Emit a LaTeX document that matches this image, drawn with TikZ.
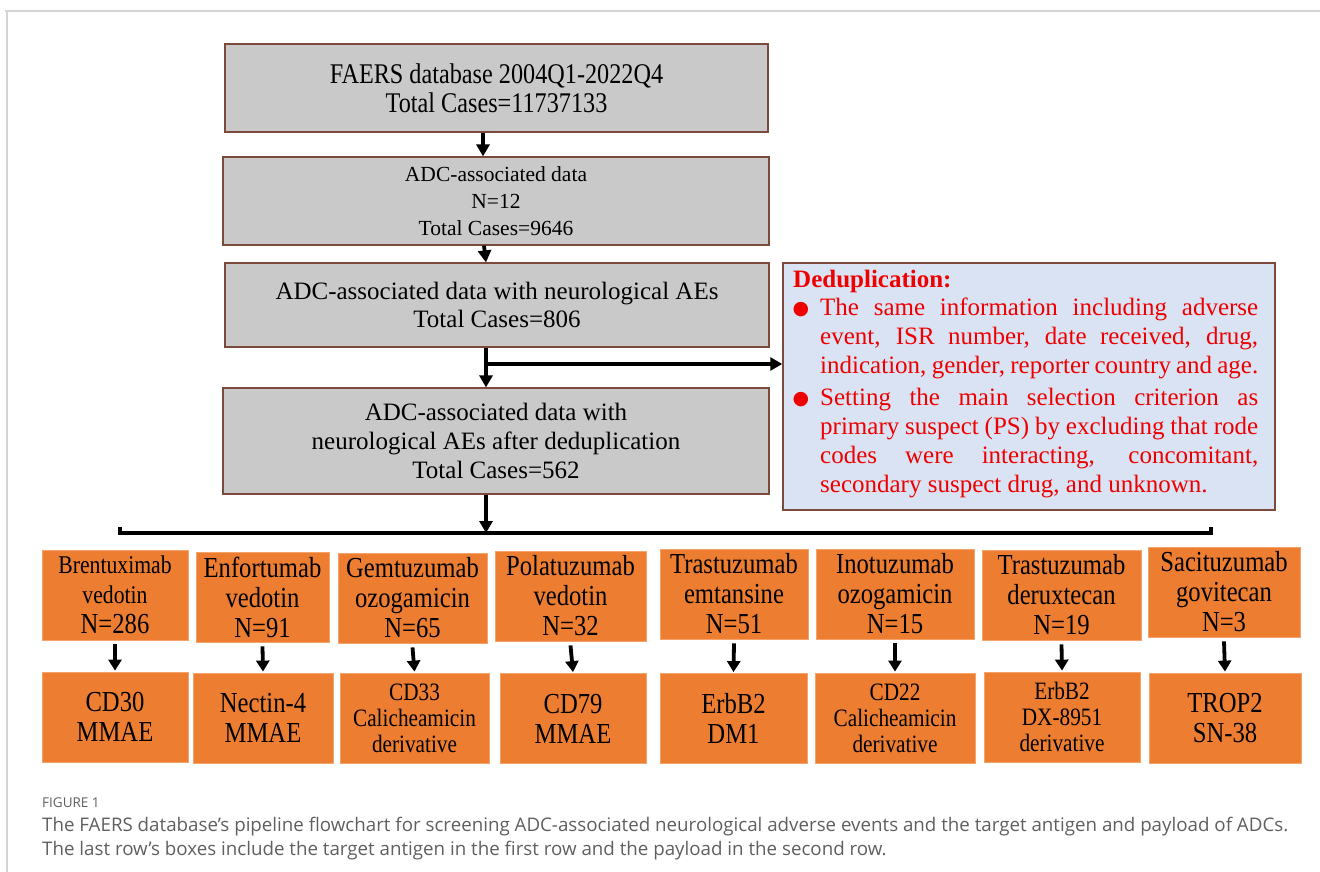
\documentclass[tikz,border=0pt]{standalone}
\usepackage{fontspec}
\setmainfont{Liberation Serif}
\newfontfamily\cserif[FakeStretch=0.85]{Liberation Serif}
\newfontfamily\capsans{Open Sans}
\newfontfamily\symfont{DejaVu Sans}
\usetikzlibrary{arrows.meta}
\definecolor{boxgray}{HTML}{C9C9C9}
\definecolor{brownline}{HTML}{7B4A3A}
\definecolor{orangefill}{HTML}{ED7D31}
\definecolor{orangeline}{HTML}{F4A46A}
\definecolor{dedupfill}{HTML}{DAE3F3}
\definecolor{dedupred}{HTML}{EE0000}
\definecolor{framegray}{HTML}{D4D4D4}
\definecolor{capgray}{HTML}{5F5F5F}
\newcommand{\fs}[2]{\fontsize{#1}{#2}\selectfont}
\newcommand{\jl}[1]{\makebox[438pt][s]{#1}}
\newcommand{\bul}{\llap{\symfont\fs{19}{29}\raisebox{1pt}{●}\hspace{11pt}}}
\newcommand{\capone}{The FAERS database’s pipeline flowchart for screening ADC-associated neurological adverse events and the target antigen and payload of ADCs.}
\newlength{\capw}
\begin{document}
\settowidth{\capw}{\capsans\fs{10}{12}\capone}
\pgfmathsetmacro{\capsize}{10*1246/\capw}
\begin{tikzpicture}[x=1pt,y=-1pt,
  graybox/.style={draw=brownline,line width=1.2pt,fill=boxgray,inner sep=0pt,align=center},
  obox/.style={draw=orangeline,line width=0.8pt,fill=orangefill,inner sep=0pt,align=center,minimum height=90pt},
  big/.style={font={\cserif\fs{29}{30}}},
  small/.style={font={\cserif\fs{25}{26}}},
  arr/.style={line width=3.8pt,-{Triangle[width=13pt,length=12pt]}},
  smallarr/.style={line width=3.8pt,-{Triangle[width=13pt,length=11pt]}},
  bracket/.style={line width=3.6pt},
  captext/.style={anchor=base west,inner sep=0pt,text=capgray}
]
\useasboundingbox (0,0) rectangle (1320,872);
% frame
\draw[framegray,line width=2pt] (5,11) -- (1320,11);
\draw[framegray,line width=2pt] (7,11) -- (7,872);

% main boxes
\node[graybox,minimum width=543pt,minimum height=88pt,font={\cserif\fs{28.5}{29}}] (b1) at (496.5,88)
  {FAERS database 2004Q1-2022Q4\\Total Cases=11737133};
\node[graybox,minimum width=546pt,minimum height=88pt,font=\fs{21.5}{27}] (b2) at (496,201)
  {ADC-associated data\\N=12\\Total Cases=9646};
\node[graybox,minimum width=544pt,minimum height=84pt,font=\fs{25}{28}] (b3) at (497,305)
  {ADC-associated data with neurological AEs\\Total Cases=806};
\node[graybox,minimum width=546pt,minimum height=106pt,font=\fs{25}{29}] (b4) at (496,441)
  {ADC-associated data with\\neurological AEs after deduplication\\Total Cases=562};

% dedup box
\node[draw=brownline,line width=1.5pt,fill=dedupfill,minimum width=492pt,minimum height=247pt,inner sep=0pt] (dd) at (1029,386.5) {};
\node[anchor=north west,inner sep=0pt,align=left,text=dedupred,font=\fs{25}{29}] (ddt) at (793,270)
  {\textbf{Deduplication:}\\[-1pt]
   \hspace{27pt}\bul\jl{The same information including adverse}\\
   \hspace{27pt}\jl{event, ISR number, date received, drug,}\\
   \hspace{27pt}\jl{indication, gender, reporter country and age.}\\[3pt]
   \hspace{27pt}\bul\jl{Setting the main selection criterion as}\\
   \hspace{27pt}\jl{primary suspect (PS) by excluding that rode}\\
   \hspace{27pt}\jl{codes were interacting, concomitant,}\\
   \hspace{27pt}secondary suspect drug, and unknown.};

% arrows of main column
\draw[arr] ([xshift=-13.5pt]b1.south) -- ([xshift=-13pt]b2.north);
\draw[arr] ([xshift=-12pt]b2.south) -- ([xshift=-11pt]b3.north);
\draw[arr] ([xshift=-11pt]b3.south) -- ([xshift=-10pt]b4.north);
\coordinate (br) at (486,364);
\draw[arr] ([xshift=-1.9pt]br) -- (dd.west |- br);
\coordinate (bm) at (486,533);
\draw[arr] ([xshift=-10pt]b4.south) -- (bm);
\coordinate (bl) at (120,533);
\coordinate (brt) at (1211,533);
\draw[bracket] ([yshift=6pt]bl) -- (bl) -- (brt) -- ([yshift=6pt]brt);

% drug boxes
\node[obox,minimum width=146pt,font={\cserif\fs{25.5}{30}}] (o1) at (115,595)
  {Brentuximab\\vedotin\\\fs{29}{30}N=286};
\node[obox,big,minimum width=133pt] (o2) at (262.5,597)
  {Enfortumab\\vedotin\\N=91};
\node[obox,big,minimum width=149pt] (o3) at (412.5,598)
  {Gemtuzumab\\ozogamicin\\N=65};
\node[obox,big,minimum width=151pt] (o4) at (570.5,596)
  {Polatuzumab\\vedotin\\N=32};
\node[obox,big,minimum width=148pt] (o5) at (734,594)
  {Trastuzumab\\emtansine\\N=51};
\node[obox,big,minimum width=158pt] (o6) at (895,594)
  {Inotuzumab\\ozogamicin\\N=15};
\node[obox,big,minimum width=159pt] (o7) at (1061.5,595)
  {Trastuzumab\\deruxtecan\\N=19};
\node[obox,big,minimum width=152pt] (o8) at (1224,592)
  {Sacituzumab\\govitecan\\N=3};

% target / payload boxes
\node[obox,big,minimum width=146pt] (p1) at (115,717) {CD30\\MMAE};
\node[obox,big,minimum width=140pt] (p2) at (263,718) {Nectin-4\\MMAE};
\node[obox,small,minimum width=149pt] (p3) at (414.5,718) {CD33\\Calicheamicin\\derivative};
\node[obox,big,minimum width=146pt] (p4) at (573,718.5) {CD79\\MMAE};
\node[obox,big,minimum width=147pt] (p5) at (733.5,718.5) {ErbB2\\DM1};
\node[obox,small,minimum width=160pt] (p6) at (895,718) {CD22\\Calicheamicin\\derivative};
\node[obox,small,minimum width=156pt] (p7) at (1062,717) {ErbB2\\DX-8951\\derivative};
\node[obox,big,minimum width=152pt] (p8) at (1225,718) {TROP2\\SN-38};

\foreach \i in {1,...,8}{
  \draw[smallarr] ([yshift=-4pt]o\i.south) -- ([yshift=1pt]p\i.north);
}

% caption
\node[captext,font=\capsans\fs{13.5}{16}] (c0) at (42,807) {FIGURE 1};
\node[captext,font=\capsans\fs{\capsize}{22}] (c1) at (42,831) {\capone};
\node[captext,font=\capsans\fs{\capsize}{22}] (c2) at (42,855) {The last row’s boxes include the target antigen in the first row and the payload in the second row.};
\end{tikzpicture}
\end{document}
